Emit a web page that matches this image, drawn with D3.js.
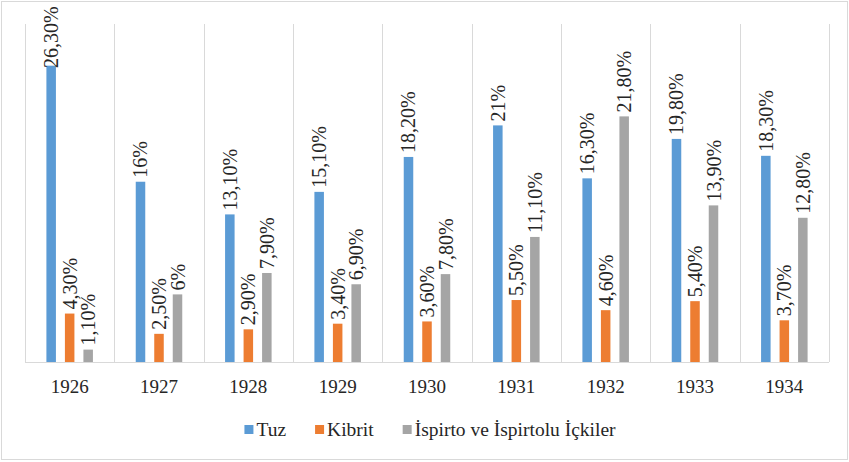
<!DOCTYPE html>
<html>
<head>
<meta charset="utf-8">
<script src="https://cdn.jsdelivr.net/npm/d3@7"></script>
<style>
  body { margin: 0; background: #fff; }
</style>
</head>
<body>
<div id="chart"></div>
<script>
// data
const years = ['1926', '1927', '1928', '1929', '1930', '1931', '1932', '1933', '1934'];
const seriesNames = ['Tuz', 'Kibrit', 'İspirto ve İspirtolu İçkiler'];
const tuz = [26.3, 16, 13.1, 15.1, 18.2, 21, 16.3, 19.8, 18.3];
const kibrit = [4.3, 2.5, 2.9, 3.4, 3.6, 5.5, 4.6, 5.4, 3.7];
const ispirto = [1.1, 6, 7.9, 6.9, 7.8, 11.1, 21.8, 13.9, 12.8];
const colors = ['#5B9BD5', '#ED7D31', '#A5A5A5'];

const FONT = "'Liberation Serif', 'Times New Roman', serif";
const width = 849;
const height = 462;
const margin = {top: 24, right: 20, bottom: 100, left: 25};

const svg = d3.select('#chart').append('svg')
  .attr('width', width)
  .attr('height', height)
  .style('font-family', FONT);

// outer frame
svg.append('rect')
  .attr('x', 1.5).attr('y', 1.5)
  .attr('width', width - 3).attr('height', height - 4)
  .attr('fill', '#fff')
  .attr('stroke', '#d9d9d9');

const x0 = d3.scaleBand()
  .domain(years)
  .range([margin.left, width - margin.right]);

const x1 = d3.scaleBand()
  .domain(seriesNames)
  .range([0, x0.bandwidth()])
  .paddingInner(0.486)
  .paddingOuter(1.157);

const y = d3.scaleLinear()
  .domain([0, 30])
  .range([height - margin.bottom, margin.top]);

const g = svg.append('g');

// vertical separators between categories
const bounds = years.map(d => x0(d)).concat([x0.range()[1]]);
g.selectAll('line.grid')
  .data(bounds)
  .enter().append('line')
  .attr('class', 'grid')
  .attr('x1', d => Math.round(d) + 0.5)
  .attr('x2', d => Math.round(d) + 0.5)
  .attr('y1', y(30))
  .attr('y2', y(0))
  .attr('stroke', '#d9d9d9');

// baseline
g.append('line')
  .attr('x1', x0.range()[0]).attr('x2', x0.range()[1])
  .attr('y1', y(0) + 0.5).attr('y2', y(0) + 0.5)
  .attr('stroke', '#d9d9d9');

const rows = years.map((yr, i) => ({
  year: yr,
  vals: [tuz[i], kibrit[i], ispirto[i]].map((v, k) => ({year: yr, name: seriesNames[k], value: v, k: k}))
}));

function fmt(v) {
  return Number.isInteger(v) ? v + '%' : v.toFixed(2).replace('.', ',') + '%';
}

const groups = g.selectAll('g.year')
  .data(rows)
  .enter().append('g')
  .attr('class', 'year')
  .attr('transform', d => 'translate(' + x0(d.year) + ',0)');

groups.selectAll('rect')
  .data(d => d.vals)
  .enter().append('rect')
  .attr('x', d => x1(d.name))
  .attr('width', x1.bandwidth())
  .attr('y', d => y(d.value))
  .attr('height', d => y(0) - y(d.value))
  .attr('fill', d => colors[d.k]);

// rotated value labels (the tallest one gets pushed down inside the frame)
groups.selectAll('text.lbl')
  .data(d => d.vals)
  .enter().append('text')
  .attr('class', 'lbl')
  .style('font-family', FONT)
  .style('font-size', '20px')
  .style('fill', '#262626')
  .style('text-anchor', 'start')
  .attr('dy', '0.35em')
  .attr('transform', d => {
    const cx = x1(d.name) + x1.bandwidth() / 2;
    const yy = Math.max(y(d.value) - 4, 68);
    return 'translate(' + cx + ',' + yy + ') rotate(-90)';
  })
  .text(d => fmt(d.value));

// year labels
g.selectAll('text.yr')
  .data(years)
  .enter().append('text')
  .attr('class', 'yr')
  .attr('x', d => x0(d) + x0.bandwidth() / 2)
  .attr('y', 393)
  .style('font-family', FONT)
  .style('font-size', '19px')
  .style('fill', '#262626')
  .style('text-anchor', 'middle')
  .text(d => d);

// legend
const leg = svg.append('g');
let cur = 0;
const gap = 29;
seriesNames.forEach((name, k) => {
  const item = leg.append('g').attr('transform', 'translate(' + cur + ',0)');
  item.append('rect')
    .attr('x', 0).attr('y', -11)
    .attr('width', 9).attr('height', 9)
    .attr('fill', colors[k]);
  const t = item.append('text')
    .attr('x', 12).attr('y', 0)
    .style('font-family', FONT)
    .style('font-size', '19.5px')
    .style('fill', '#262626')
    .text(name);
  cur += 12 + t.node().getComputedTextLength() + gap;
});
const legW = cur - gap;
leg.attr('transform', 'translate(' + (430 - legW / 2) + ',436)');
</script>
</body>
</html>
